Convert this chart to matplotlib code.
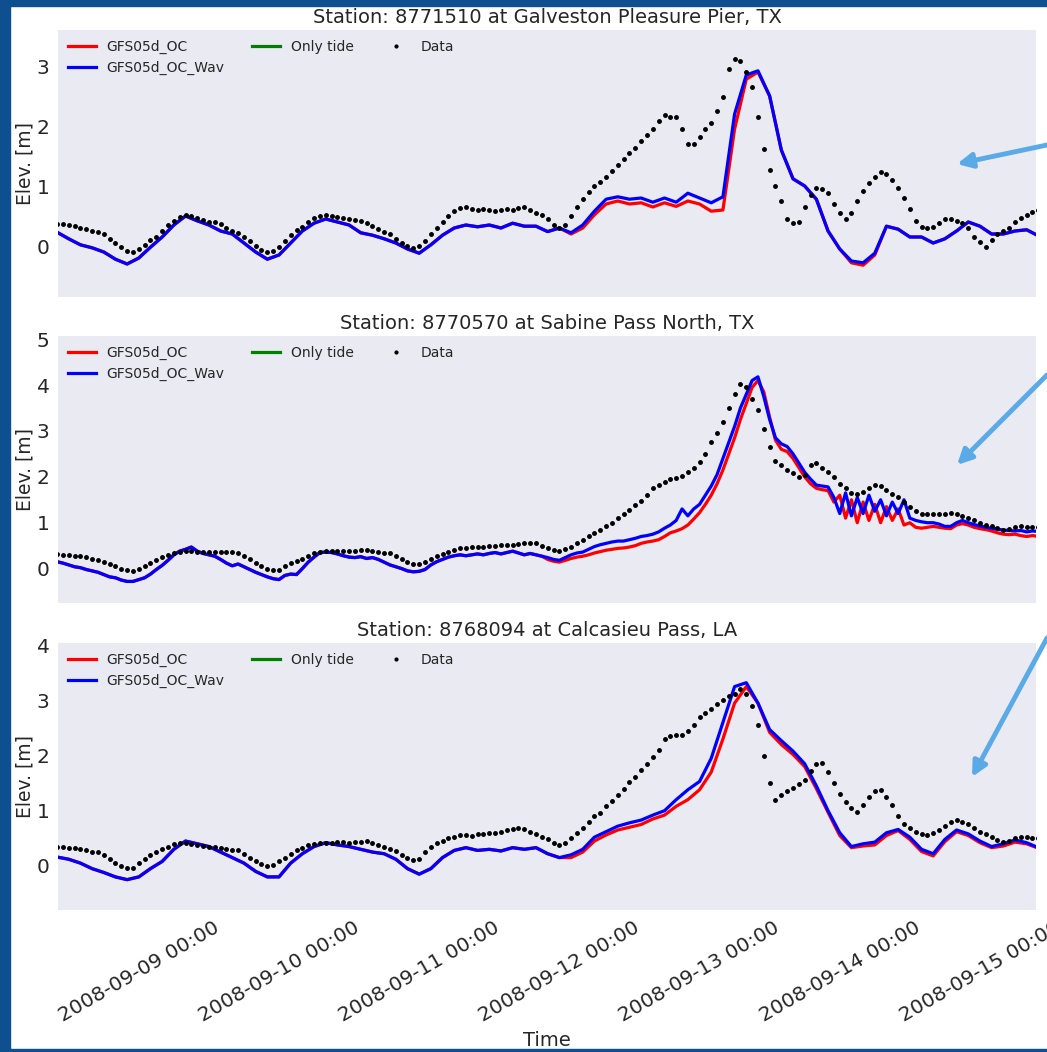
import numpy as np
import pandas as pd
import matplotlib
matplotlib.use("Agg")
import matplotlib.pyplot as plt
import matplotlib.dates as mdates
from matplotlib.patches import Rectangle, FancyArrowPatch

# ---------------------------------------------------------------- data
START = "2008-09-08 10:00"

stations = [
    "Station: 8771510 at Galveston Pleasure Pier, TX",
    "Station: 8770570 at Sabine Pass North, TX",
    "Station: 8768094 at Calcasieu Pass, LA",
]
series_labels = ["GFS05d_OC", "GFS05d_OC_Wav", "Only tide", "Data"]
y_limits = [(-0.85, 3.6), (-0.75, 5.07), (-0.8, 4.04)]
y_ticks = [[0, 1, 2, 3], [0, 1, 2, 3, 4, 5], [0, 1, 2, 3, 4]]

# Galveston: model output every 2 h, observations every 1 h
galv_oc = [0.23, 0.12, 0.02, -0.03, -0.10, -0.22, -0.30, -0.20, -0.02, 0.15,
           0.35, 0.50, 0.42, 0.35, 0.25, 0.20, 0.05, -0.10, -0.22, -0.15,
           0.05, 0.25, 0.38, 0.45, 0.40, 0.35, 0.22, 0.18, 0.12, 0.05,
           -0.05, -0.12, 0.02, 0.18, 0.30, 0.35, 0.32, 0.35, 0.30, 0.38,
           0.33, 0.33, 0.24, 0.30, 0.20, 0.30, 0.52, 0.70, 0.75, 0.70,
           0.72, 0.65, 0.72, 0.66, 0.75, 0.70, 0.58, 0.60, 1.95, 2.78,
           2.90, 2.50, 1.60, 1.12, 1.00, 0.78, 0.25, -0.05, -0.28, -0.32,
           -0.15, 0.33, 0.28, 0.15, 0.15, 0.05, 0.12, 0.25, 0.40, 0.33,
           0.20, 0.20, 0.25, 0.27, 0.17]
galv_wav = [0.23, 0.12, 0.02, -0.03, -0.10, -0.22, -0.30, -0.20, -0.02, 0.15,
            0.35, 0.50, 0.42, 0.35, 0.25, 0.20, 0.05, -0.10, -0.22, -0.15,
            0.05, 0.25, 0.38, 0.45, 0.40, 0.35, 0.22, 0.18, 0.12, 0.05,
            -0.05, -0.12, 0.02, 0.18, 0.30, 0.35, 0.32, 0.35, 0.30, 0.38,
            0.33, 0.33, 0.24, 0.30, 0.22, 0.35, 0.58, 0.78, 0.82, 0.78,
            0.80, 0.73, 0.80, 0.73, 0.88, 0.80, 0.72, 0.82, 2.20, 2.85,
            2.92, 2.50, 1.60, 1.12, 1.00, 0.78, 0.25, -0.05, -0.25, -0.28,
            -0.12, 0.33, 0.28, 0.15, 0.15, 0.05, 0.12, 0.25, 0.40, 0.33,
            0.20, 0.20, 0.25, 0.27, 0.17]
galv_obs = [0.37, 0.36, 0.35, 0.33, 0.30, 0.28, 0.25, 0.23, 0.20, 0.12,
            0.05, -0.02, -0.08, -0.10, -0.05, 0.02, 0.10, 0.15, 0.25, 0.35,
            0.42, 0.48, 0.52, 0.50, 0.47, 0.43, 0.40, 0.40, 0.36, 0.30,
            0.25, 0.22, 0.15, 0.08, 0.00, -0.06, -0.10, -0.08, -0.02, 0.08,
            0.18, 0.27, 0.32, 0.40, 0.47, 0.50, 0.52, 0.50, 0.48, 0.46,
            0.45, 0.43, 0.42, 0.38, 0.33, 0.28, 0.24, 0.20, 0.12, 0.05,
            0.00, -0.03, 0.00, 0.08, 0.20, 0.30, 0.40, 0.50, 0.58, 0.63,
            0.65, 0.62, 0.60, 0.62, 0.60, 0.58, 0.60, 0.62, 0.60, 0.63,
            0.65, 0.60, 0.55, 0.52, 0.45, 0.35, 0.30, 0.35, 0.50, 0.65,
            0.78, 0.90, 1.00, 1.07, 1.15, 1.25, 1.35, 1.45, 1.55, 1.63,
            1.75, 1.85, 1.95, 2.08, 2.18, 2.15, 2.15, 1.95, 1.70, 1.70,
            1.82, 1.95, 2.05, 2.25, 2.48, 2.95, 3.12, 3.08, 2.90, 2.65,
            2.15, 1.62, 1.27, 1.00, 0.75, 0.45, 0.38, 0.40, 0.65, 0.85,
            0.97, 0.95, 0.88, 0.70, 0.55, 0.45, 0.55, 0.75, 0.92, 1.05,
            1.15, 1.23, 1.20, 1.10, 0.97, 0.80, 0.62, 0.42, 0.32, 0.30,
            0.32, 0.38, 0.45, 0.45, 0.42, 0.38, 0.30, 0.15, 0.07, -0.02,
            0.10, 0.20, 0.25, 0.30, 0.40, 0.47, 0.52, 0.57, 0.60]

# Sabine Pass: model output and observations every 1 h
sabine_oc = [0.15, 0.12, 0.08, 0.04, 0.02, -0.02, -0.05, -0.08, -0.13, -0.18,
             -0.20, -0.25, -0.28, -0.28, -0.24, -0.20, -0.12, -0.02, 0.07, 0.18,
             0.30, 0.38, 0.42, 0.47, 0.38, 0.33, 0.30, 0.27, 0.20, 0.12,
             0.06, 0.10, 0.04, -0.02, -0.08, -0.13, -0.18, -0.22, -0.24, -0.15,
             -0.12, -0.13, 0.00, 0.14, 0.25, 0.35, 0.36, 0.35, 0.32, 0.28,
             0.25, 0.24, 0.26, 0.22, 0.24, 0.20, 0.14, 0.08, 0.04, 0.00,
             -0.05, -0.07, -0.06, -0.02, 0.08, 0.15, 0.20, 0.25, 0.28, 0.30,
             0.28, 0.30, 0.32, 0.30, 0.33, 0.35, 0.32, 0.35, 0.38, 0.34,
             0.30, 0.33, 0.30, 0.27, 0.20, 0.16, 0.14, 0.18, 0.22, 0.25,
             0.27, 0.30, 0.34, 0.37, 0.40, 0.42, 0.44, 0.45, 0.47, 0.50,
             0.55, 0.58, 0.60, 0.63, 0.70, 0.78, 0.82, 0.87, 0.95, 1.08,
             1.22, 1.40, 1.60, 1.85, 2.15, 2.50, 2.85, 3.25, 3.60, 3.95,
             4.10, 3.85, 3.30, 2.80, 2.60, 2.55, 2.40, 2.20, 2.00, 1.85,
             1.75, 1.72, 1.70, 1.45, 1.60, 1.10, 1.50, 1.00, 1.45, 1.05,
             1.40, 1.00, 1.35, 1.05, 1.30, 0.95, 1.00, 0.90, 0.88, 0.90,
             0.92, 0.90, 0.88, 0.87, 0.95, 0.98, 0.95, 0.90, 0.87, 0.85,
             0.82, 0.78, 0.75, 0.74, 0.75, 0.72, 0.70, 0.72, 0.70]
sabine_wav = [0.15, 0.12, 0.08, 0.04, 0.02, -0.02, -0.05, -0.08, -0.13, -0.18,
              -0.20, -0.25, -0.28, -0.28, -0.24, -0.20, -0.12, -0.02, 0.07, 0.18,
              0.30, 0.38, 0.42, 0.47, 0.38, 0.33, 0.30, 0.27, 0.20, 0.12,
              0.06, 0.10, 0.04, -0.02, -0.08, -0.13, -0.18, -0.22, -0.24, -0.15,
              -0.12, -0.13, 0.00, 0.14, 0.25, 0.35, 0.36, 0.35, 0.32, 0.28,
              0.25, 0.24, 0.26, 0.22, 0.24, 0.20, 0.14, 0.08, 0.04, 0.00,
              -0.05, -0.07, -0.06, -0.02, 0.08, 0.15, 0.20, 0.25, 0.28, 0.30,
              0.28, 0.30, 0.32, 0.30, 0.33, 0.35, 0.32, 0.35, 0.38, 0.34,
              0.30, 0.33, 0.30, 0.27, 0.24, 0.20, 0.18, 0.24, 0.30, 0.34,
              0.36, 0.42, 0.48, 0.52, 0.55, 0.58, 0.60, 0.60, 0.63, 0.66,
              0.70, 0.72, 0.75, 0.80, 0.88, 0.95, 1.05, 1.30, 1.15, 1.30,
              1.40, 1.60, 1.80, 2.05, 2.40, 2.75, 3.10, 3.50, 3.80, 4.10,
              4.18, 3.75, 3.25, 2.85, 2.72, 2.66, 2.50, 2.30, 2.10, 1.95,
              1.82, 1.80, 1.78, 1.55, 1.20, 1.65, 1.15, 1.55, 1.20, 1.60,
              1.25, 1.50, 1.15, 1.45, 1.20, 1.50, 1.10, 1.05, 1.02, 1.00,
              1.00, 0.97, 0.92, 0.92, 1.00, 1.05, 1.00, 0.96, 0.93, 0.90,
              0.88, 0.86, 0.84, 0.83, 0.82, 0.83, 0.80, 0.82, 0.81]
sabine_obs = [0.32, 0.30, 0.30, 0.28, 0.27, 0.25, 0.22, 0.18, 0.15, 0.10,
              0.05, 0.00, -0.04, -0.05, 0.00, 0.06, 0.12, 0.18, 0.25, 0.30,
              0.34, 0.37, 0.38, 0.38, 0.37, 0.37, 0.36, 0.37, 0.36, 0.37,
              0.36, 0.33, 0.28, 0.20, 0.12, 0.05, 0.00, -0.03, -0.02, 0.05,
              0.12, 0.17, 0.20, 0.28, 0.34, 0.37, 0.38, 0.38, 0.38, 0.39,
              0.38, 0.39, 0.40, 0.40, 0.38, 0.37, 0.35, 0.33, 0.28, 0.20,
              0.14, 0.10, 0.10, 0.15, 0.22, 0.28, 0.32, 0.36, 0.40, 0.44,
              0.45, 0.46, 0.46, 0.47, 0.50, 0.50, 0.52, 0.52, 0.52, 0.54,
              0.55, 0.55, 0.55, 0.50, 0.45, 0.40, 0.38, 0.42, 0.48, 0.55,
              0.62, 0.70, 0.78, 0.85, 0.93, 1.00, 1.10, 1.20, 1.28, 1.38,
              1.48, 1.60, 1.75, 1.82, 1.88, 1.95, 1.98, 2.02, 2.10, 2.20,
              2.33, 2.50, 2.75, 2.95, 3.20, 3.50, 3.80, 4.02, 3.95, 3.70,
              3.45, 3.05, 2.66, 2.35, 2.25, 2.16, 2.08, 2.00, 2.05, 2.25,
              2.30, 2.20, 2.10, 2.00, 1.85, 1.75, 1.65, 1.62, 1.68, 1.75,
              1.82, 1.80, 1.72, 1.62, 1.55, 1.45, 1.35, 1.25, 1.20, 1.18,
              1.18, 1.18, 1.20, 1.22, 1.20, 1.15, 1.10, 1.05, 1.00, 0.95,
              0.92, 0.88, 0.85, 0.87, 0.90, 0.92, 0.90, 0.90, 0.90]

# Calcasieu Pass: model output every 2 h, observations every 1 h
calc_oc = [0.16, 0.12, 0.05, -0.05, -0.12, -0.20, -0.25, -0.20, -0.05, 0.08,
           0.30, 0.45, 0.40, 0.35, 0.25, 0.15, 0.05, -0.10, -0.20, -0.20,
           0.05, 0.22, 0.35, 0.42, 0.38, 0.35, 0.30, 0.25, 0.22, 0.12,
           -0.05, -0.15, -0.05, 0.15, 0.28, 0.33, 0.28, 0.30, 0.27, 0.33,
           0.30, 0.33, 0.22, 0.15, 0.15, 0.25, 0.45, 0.56, 0.65, 0.70,
           0.75, 0.85, 0.92, 1.08, 1.20, 1.38, 1.70, 2.30, 2.95, 3.25,
           2.95, 2.42, 2.20, 2.02, 1.80, 1.40, 0.97, 0.55, 0.33, 0.36,
           0.38, 0.55, 0.64, 0.48, 0.26, 0.18, 0.44, 0.62, 0.55, 0.42,
           0.33, 0.36, 0.43, 0.40, 0.32]
calc_wav = [0.16, 0.12, 0.05, -0.05, -0.12, -0.20, -0.25, -0.20, -0.05, 0.08,
            0.30, 0.45, 0.40, 0.35, 0.25, 0.15, 0.05, -0.10, -0.20, -0.20,
            0.05, 0.22, 0.35, 0.42, 0.38, 0.35, 0.30, 0.25, 0.22, 0.12,
            -0.05, -0.15, -0.05, 0.15, 0.28, 0.33, 0.28, 0.30, 0.27, 0.33,
            0.30, 0.33, 0.22, 0.15, 0.20, 0.30, 0.52, 0.62, 0.72, 0.78,
            0.83, 0.92, 1.00, 1.20, 1.38, 1.53, 1.95, 2.60, 3.25, 3.32,
            2.95, 2.47, 2.27, 2.08, 1.85, 1.45, 1.00, 0.60, 0.35, 0.40,
            0.43, 0.60, 0.66, 0.52, 0.30, 0.22, 0.48, 0.65, 0.58, 0.45,
            0.35, 0.40, 0.47, 0.42, 0.33]
calc_obs = [0.35, 0.34, 0.33, 0.32, 0.30, 0.28, 0.26, 0.25, 0.20, 0.13,
            0.06, 0.00, -0.04, -0.03, 0.05, 0.12, 0.20, 0.26, 0.30, 0.35,
            0.40, 0.42, 0.42, 0.40, 0.38, 0.36, 0.35, 0.35, 0.33, 0.30,
            0.29, 0.28, 0.22, 0.15, 0.08, 0.03, 0.00, 0.02, 0.08, 0.15,
            0.22, 0.28, 0.33, 0.38, 0.40, 0.42, 0.42, 0.42, 0.43, 0.44,
            0.42, 0.44, 0.44, 0.45, 0.42, 0.38, 0.35, 0.30, 0.27, 0.20,
            0.15, 0.11, 0.13, 0.25, 0.35, 0.42, 0.45, 0.50, 0.53, 0.56,
            0.56, 0.55, 0.58, 0.58, 0.60, 0.60, 0.62, 0.65, 0.67, 0.69,
            0.67, 0.62, 0.58, 0.52, 0.48, 0.42, 0.38, 0.42, 0.50, 0.60,
            0.68, 0.80, 0.90, 0.96, 1.08, 1.18, 1.29, 1.40, 1.52, 1.62,
            1.73, 1.85, 1.98, 2.10, 2.30, 2.35, 2.37, 2.38, 2.45, 2.55,
            2.69, 2.77, 2.85, 2.93, 3.00, 3.08, 3.12, 3.20, 3.12, 2.89,
            2.55, 2.00, 1.50, 1.20, 1.28, 1.35, 1.42, 1.48, 1.55, 1.72,
            1.84, 1.87, 1.70, 1.50, 1.30, 1.15, 1.05, 0.98, 1.10, 1.25,
            1.35, 1.38, 1.25, 1.10, 0.90, 0.75, 0.69, 0.62, 0.58, 0.56,
            0.60, 0.65, 0.72, 0.80, 0.84, 0.80, 0.75, 0.68, 0.62, 0.58,
            0.52, 0.47, 0.44, 0.45, 0.50, 0.53, 0.52, 0.51, 0.50]

tide_only = []  # astronomical tide series (not drawn in these panels)

model_step = ["2h", "1h", "2h"]
oc_runs = [galv_oc, sabine_oc, calc_oc]
wav_runs = [galv_wav, sabine_wav, calc_wav]
obs_runs = [galv_obs, sabine_obs, calc_obs]

# ---------------------------------------------------------------- style
TEXT = "#262626"
plt.rcParams.update({
    "font.family": "DejaVu Sans",
    "text.color": TEXT,
    "axes.labelcolor": TEXT,
    "xtick.color": TEXT,
    "ytick.color": TEXT,
    "axes.facecolor": "#EAEAF2",
    "axes.edgecolor": "white",
    "axes.grid": False,
    "xtick.major.size": 0,
    "ytick.major.size": 0,
})

fig = plt.figure(figsize=(10.47, 10.52), dpi=100, facecolor="white")

left, width, height = 58 / 1047, 978 / 1047, 267 / 1052
bottoms = [(1052 - 297) / 1052, (1052 - 603) / 1052, (1052 - 910) / 1052]

t_start = pd.Timestamp(START)
xlim = (t_start + pd.Timedelta(minutes=10), t_start + pd.Timedelta(hours=167, minutes=36))

axes = []
for i in range(3):
    ax = fig.add_axes([left, bottoms[i], width, height])
    axes.append(ax)
    t_model = pd.date_range(START, periods=len(oc_runs[i]), freq=model_step[i])
    t_obs = pd.date_range(START, periods=len(obs_runs[i]), freq="1h")

    ax.plot(t_model, oc_runs[i], color="red", lw=2.3, label=series_labels[0])
    ax.plot(t_model, wav_runs[i], color="blue", lw=2.3, label=series_labels[1])
    ax.plot(t_model[:len(tide_only)], tide_only, color="green", lw=2.3,
            label=series_labels[2])
    ax.plot(t_obs, obs_runs[i], ls="none", marker=".", ms=5, color="black",
            label=series_labels[3])

    ax.set_xlim(*xlim)
    ax.set_ylim(*y_limits[i])
    ax.set_yticks(y_ticks[i])
    ax.tick_params(axis="y", labelsize=14.5, pad=6)
    ax.set_ylabel("Elev. [m]", fontsize=13.5, labelpad=2)
    ax.set_title(stations[i], fontsize=14, pad=5)
    for s in ax.spines.values():
        s.set_visible(False)
    ax.legend(loc="upper left", ncol=3, fontsize=10, frameon=False,
              columnspacing=2.0, handlelength=2, borderaxespad=0.3,
              markerscale=0.8)

    ax.xaxis.set_major_locator(mdates.DayLocator())
    ax.xaxis.set_major_formatter(mdates.DateFormatter("%Y-%m-%d %H:%M"))
    if i < 2:
        ax.tick_params(axis="x", labelbottom=False)
    else:
        ax.tick_params(axis="x", labelsize=14.5, pad=6)
        for lab in ax.get_xticklabels():
            lab.set_rotation(30)
            lab.set_ha("center")
        ax.set_xlabel("Time", fontsize=14, labelpad=4)

# ---------------------------------------------------------------- frame and pointers
BORDER = "#0D4F8F"
fig.add_artist(Rectangle((0, 0), 10 / 1047, 1, transform=fig.transFigure,
                         color=BORDER, zorder=10))
fig.add_artist(Rectangle((0, 1 - 6 / 1052), 1, 6 / 1052, transform=fig.transFigure,
                         color=BORDER, zorder=10))
fig.add_artist(Rectangle((0, 0), 1, 3 / 1052, transform=fig.transFigure,
                         color=BORDER, zorder=10))

ARROW = "#5AAAE8"
pointers = [((1047, 145), (957, 164)),
            ((1047, 375), (957, 465)),
            ((1047, 638), (972, 777))]
for (x0, y0), (x1, y1) in pointers:
    fig.add_artist(FancyArrowPatch((x0 / 1047, 1 - y0 / 1052), (x1 / 1047, 1 - y1 / 1052),
                                   transform=fig.transFigure, arrowstyle="-|>",
                                   mutation_scale=22, lw=3.5, color=ARROW,
                                   shrinkA=0, shrinkB=0, zorder=11))

fig.savefig("out.png", dpi=100)
